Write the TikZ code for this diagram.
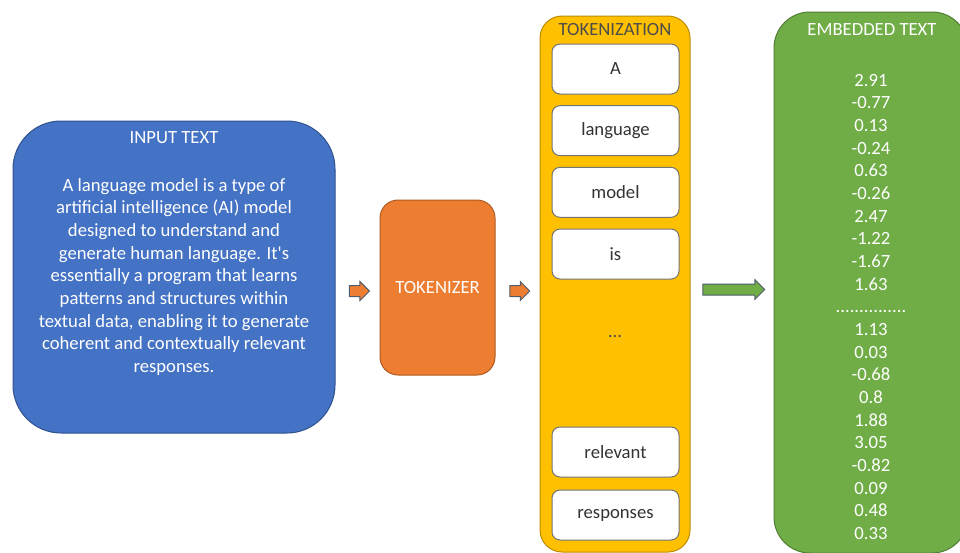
\documentclass[tikz,border=0pt]{standalone}
\usepackage{fontspec}
\setmainfont{Carlito}
\usepackage{tikz}
\usetikzlibrary{positioning}
\usetikzlibrary{shapes.arrows}

\definecolor{inblue}{HTML}{4472C4}
\definecolor{inblueline}{HTML}{2F528F}
\definecolor{tkorange}{HTML}{ED7D31}
\definecolor{tkorangeline}{HTML}{AE5A21}
\definecolor{tkyellow}{HTML}{FFC000}
\definecolor{tkyellowline}{HTML}{BC8C00}
\definecolor{emgreen}{HTML}{70AD47}
\definecolor{emgreenline}{HTML}{507E32}
\definecolor{arrline}{HTML}{4F5D6E}

\begin{document}
\begin{tikzpicture}[x=0.75pt, y=-0.75pt, font=\fontsize{14}{17}\selectfont,
    P/.style={rectangle, line width=0.75pt, inner sep=0pt},
    T/.style={rectangle, draw=black!55, fill=white, rounded corners=6pt, line width=0.75pt,
      minimum width=95.25pt, minimum height=37.5pt, text=black!80},
    A/.style={single arrow, draw=arrline, line width=0.75pt, inner xsep=0pt, inner ysep=3.75pt,
      single arrow head extend=3pt, single arrow tip angle=90},
    L/.style={text=white, align=center, inner sep=0pt}]
    \clip (0,0) rectangle (960,553);

    \node[P, fill=inblue, draw=inblueline, rounded corners=36pt,
      minimum width=241.5pt, minimum height=234pt] (input) at (174,277) {};
    \node[L] (intitle) at (174,138) {INPUT TEXT};
    \node[L] (intext) at (174,277) {A language model is a type of\\
      artificial intelligence (AI) model\\
      designed to understand and\\
      generate human language. It\textquotesingle s\\
      essentially a program that learns\\
      patterns and structures within\\
      textual data, enabling it to generate\\
      coherent and contextually relevant\\
      responses.};

    \node[P, fill=tkorange, draw=tkorangeline, rounded corners=13.5pt, text=white,
      minimum width=86.25pt, minimum height=131.25pt] (tokenizer) at (437.5,287.5) {TOKENIZER};

    \node[P, fill=tkyellow, draw=tkyellowline, rounded corners=16.5pt,
      minimum width=112.5pt, minimum height=402pt] (tokenization) at (615,284) {};
    \node[inner sep=0pt, text=black!70] (tktitle) at (615,30) {TOKENIZATION};
    \node[T] (a) at (615.5,69) {A};
    \node[T] (language) [below=8pt of a] {language};
    \node[T] (model) [below=8pt of language] {model};
    \node[T] (is) [below=8pt of model] {is};
    \node[text=black!70] (skip) at (615,337) {…};
    \node[T] (relevant) at (615.5,452) {relevant};
    \node[T] (responses) [below=9pt of relevant] {responses};

    \node[P, fill=emgreen, draw=emgreenline, rounded corners=27pt,
      minimum width=145.5pt, minimum height=405.75pt] (embedded) at (871,282.5) {};
    \node[L] (emtitle) at (872,30) {EMBEDDED TEXT};
    \node[L] (vector) at (871,307) {2.91\\-0.77\\0.13\\-0.24\\0.63\\-0.26\\2.47\\-1.22\\-1.67\\1.63\\
      ...............\\1.13\\0.03\\-0.68\\0.8\\1.88\\3.05\\-0.82\\0.09\\0.48\\0.33};

    \node[A, fill=tkorange, minimum height=15pt] (arr1) at (356.7,291) {};
    \node[A, fill=tkorange, minimum height=15pt] (arr2) at (517,291) {};
    \node[A, fill=emgreen, minimum height=46.5pt, single arrow head extend=3.2pt] (arr3) at (731,289.5) {};
\end{tikzpicture}
\end{document}
